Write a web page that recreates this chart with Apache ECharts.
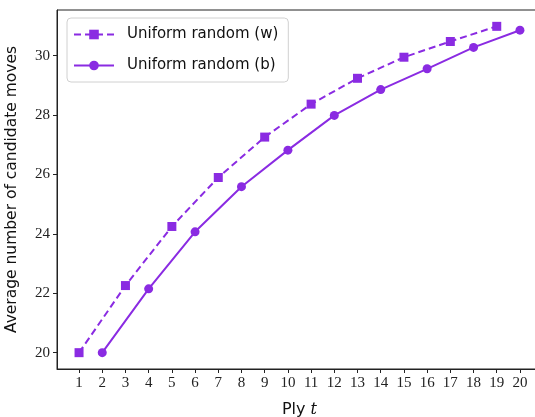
<!DOCTYPE html>
<html>
<head>
<meta charset="utf-8">
<script src="https://cdn.jsdelivr.net/npm/echarts@6/dist/echarts.min.js"></script>
<style>html,body{margin:0;padding:0;background:#fff}#c{width:535px;height:417px}</style>
</head>
<body>
<div id="c"></div>
<script>
var pliesW = [1, 3, 5, 7, 9, 11, 13, 15, 17, 19];
var valuesW = [20.0, 22.26, 24.25, 25.9, 27.26, 28.37, 29.24, 29.95, 30.48, 30.99];
var pliesB = [2, 4, 6, 8, 10, 12, 14, 16, 18, 20];
var valuesB = [20.0, 22.15, 24.07, 25.59, 26.82, 27.99, 28.86, 29.56, 30.28, 30.86];
var xTicks = [1,2,3,4,5,6,7,8,9,10,11,12,13,14,15,16,17,18,19,20];
var yTicks = [20, 22, 24, 26, 28, 30];

var color = '#8a2be2';
var chart = echarts.init(document.getElementById('c'));
function pairs(xs, ys){ return xs.map(function(x,i){return [x, ys[i]];}); }
chart.setOption({
  animation: false,
  grid: {left: 57, right: -7, top: 10, bottom: 48, show: true, borderColor: '#222', borderWidth: 1,
         containLabel: false, outerBoundsMode: 'none'},
  legend: {
    orient: 'vertical', left: 67, top: 18,
    padding: [9, 10, 9, 6],
    backgroundColor: 'rgba(255,255,255,0.8)',
    borderColor: '#d0d0d0', borderWidth: 1, borderRadius: 4,
    itemWidth: 40, itemHeight: 12, itemGap: 16,
    textStyle: {fontFamily: 'DejaVu Sans', fontSize: 15, color: '#111', padding: [0,0,0,8]},
    data: ['Uniform random (w)', 'Uniform random (b)']
  },
  xAxis: {
    type: 'value', min: 0.05, max: 20.95,
    name: '{a|Ply }{b|t}', nameLocation: 'middle', nameGap: 33,
    nameTextStyle: {rich: {a: {fontFamily: 'DejaVu Sans', fontSize: 16, color: '#111'}, b: {fontFamily: 'DejaVu Serif', fontStyle: 'italic', fontSize: 16, color: '#111'}}},
    splitLine: {show: false},
    axisLine: {show: true, lineStyle: {color: '#222', width: 1}},
    axisTick: {show: true, length: 4, customValues: xTicks, lineStyle: {color: '#222'}},
    axisLabel: {customValues: xTicks, fontFamily: 'Liberation Serif', fontSize: 15, color: '#222', margin: 7}
  },
  yAxis: {
    type: 'value', min: 19.45, max: 31.54,
    name: 'Average number of candidate moves', nameLocation: 'middle', nameGap: 37,
    nameTextStyle: {fontFamily: 'DejaVu Sans', fontSize: 15.5, color: '#111'},
    splitLine: {show: false},
    axisLine: {show: true, lineStyle: {color: '#222', width: 1}},
    axisTick: {show: true, length: 4, customValues: yTicks, lineStyle: {color: '#222'}},
    axisLabel: {customValues: yTicks, fontFamily: 'Liberation Serif', fontSize: 15, color: '#222', margin: 7}
  },
  series: [
    {name: 'Uniform random (w)', type: 'line', data: pairs(pliesW, valuesW),
     symbol: 'rect', symbolSize: 9, color: color,
     lineStyle: {color: color, width: 2, type: [7, 4]}, itemStyle: {color: color}},
    {name: 'Uniform random (b)', type: 'line', data: pairs(pliesB, valuesB),
     symbol: 'circle', symbolSize: 9, color: color,
     lineStyle: {color: color, width: 2, type: 'solid'}, itemStyle: {color: color}}
  ]
});
</script>
</body>
</html>
